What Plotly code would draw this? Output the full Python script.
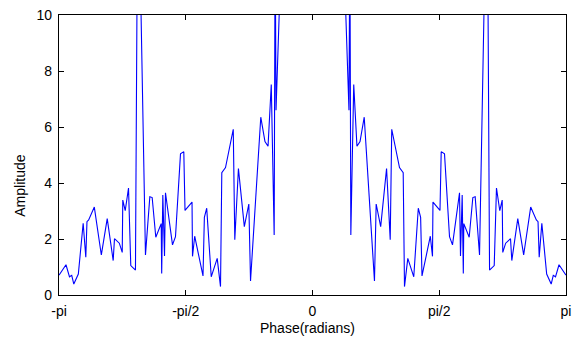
import math
import plotly.graph_objects as go

# Phase (radians) and amplitude
phase = [
    -3.1416, -3.055, -3.0115, -2.984, -2.958, -2.902, -2.842, -2.8095, -2.795, -2.774,
    -2.704, -2.617, -2.544, -2.470, -2.454, -2.394, -2.358, -2.351, -2.321, -2.280,
    -2.252, -2.194, -2.169, -2.134, -2.070, -2.016, -1.987, -1.942, -1.875, -1.869,
    -1.855, -1.834, -1.822, -1.735, -1.698, -1.636, -1.595, -1.580, -1.493, -1.487,
    -1.460, -1.357, -1.340, -1.311, -1.255, -1.181, -1.140, -1.124, -1.078, -0.982,
    -0.963, -0.918, -0.845, -0.789, -0.768, -0.641, -0.589, -0.551, -0.511, -0.475,
    -0.463, -0.452, -0.390, -0.273, -0.149,
    0.0,
    0.149, 0.273, 0.390, 0.452, 0.463, 0.475, 0.511, 0.551, 0.589, 0.641,
    0.768, 0.789, 0.845, 0.918, 0.963, 0.982, 1.078, 1.124, 1.140, 1.181,
    1.255, 1.311, 1.340, 1.357, 1.460, 1.487, 1.493, 1.580, 1.595, 1.636,
    1.698, 1.735, 1.822, 1.834, 1.855, 1.869, 1.875, 1.942, 1.987, 2.016,
    2.070, 2.134, 2.169, 2.194, 2.252, 2.280, 2.321, 2.351, 2.358, 2.394,
    2.454, 2.470, 2.544, 2.617, 2.704, 2.774, 2.795, 2.8095, 2.842, 2.902,
    2.958, 2.984, 3.0115, 3.055, 3.1416,
]

amplitude = [
    0.71, 1.08, 0.65, 0.70, 0.39, 0.75, 2.56, 1.35, 2.62, 2.68,
    3.14, 1.43, 2.73, 1.23, 2.01, 1.85, 1.52, 3.39, 3.01, 3.82,
    1.05, 0.89, 13.5, 11.5, 1.43, 3.51, 3.48, 2.06, 2.55, 0.77,
    3.57, 1.39, 3.65, 1.79, 2.08, 5.04, 5.12, 3.02, 3.32, 1.38,
    2.10, 0.68, 2.77, 3.10, 0.65, 1.31, 0.30, 4.37, 4.55, 5.92,
    1.97, 4.52, 2.44, 3.25, 0.50, 6.35, 5.48, 5.31, 7.52, 2.14,
    13.0, 6.60, 12.0, 20.0, 28.0,
    35.0,
    28.0, 20.0, 12.0, 6.60, 13.0, 2.14, 7.52, 5.31, 5.48, 6.35,
    0.50, 3.25, 2.44, 4.52, 1.97, 5.92, 4.55, 4.37, 0.30, 1.31,
    0.65, 3.10, 2.77, 0.68, 2.10, 1.38, 3.32, 3.02, 5.12, 5.04,
    2.08, 1.79, 3.65, 1.39, 3.57, 0.77, 2.55, 2.06, 3.48, 3.51,
    1.43, 11.5, 13.5, 0.89, 1.05, 3.82, 3.01, 3.39, 1.52, 1.85,
    2.01, 1.23, 2.73, 1.43, 3.14, 2.68, 2.62, 1.35, 2.56, 0.75,
    0.39, 0.70, 0.65, 1.08, 0.71,
]

x_tick_vals = [-math.pi, -math.pi / 2, 0, math.pi / 2, math.pi]
x_tick_text = ["-pi", "-pi/2", "0", "pi/2", "pi"]
y_tick_vals = [0, 2, 4, 6, 8, 10]
x_title = "Phase(radians)"
y_title = "Amplitude"

FONT = "Liberation Sans, Arial, sans-serif"
FS = 14

fig = go.Figure()
fig.add_trace(go.Scatter(
    x=phase, y=amplitude, mode="lines",
    line=dict(color="#0000FF", width=1.1),
    showlegend=False, hoverinfo="skip",
))

axis_common = dict(
    showline=True, linecolor="black", linewidth=1.2, mirror="ticks",
    ticks="inside", ticklen=5, tickcolor="black", tickwidth=1,
    showgrid=False, zeroline=False, automargin=False,
    tickfont=dict(family=FONT, size=FS, color="black"),
    ticklabelstandoff=3,
)

fig.update_layout(
    width=577, height=338,
    margin=dict(l=59, r=11, t=15, b=43),
    paper_bgcolor="white", plot_bgcolor="white",
    font=dict(family=FONT, size=FS, color="black"),
    xaxis=dict(range=[-math.pi, math.pi], tickvals=x_tick_vals,
               ticktext=x_tick_text, **axis_common),
    yaxis=dict(range=[0, 10], tickvals=y_tick_vals, **axis_common),
)

# axis titles placed as in the reference
fig.add_annotation(text=x_title, xref="paper", yref="paper",
                   x=0.49, y=-0.118, yanchor="middle", xanchor="center",
                   showarrow=False, font=dict(family=FONT, size=FS, color="black"))
fig.add_annotation(text=y_title, xref="paper", yref="paper",
                   x=-0.077, y=0.39, yanchor="middle", xanchor="center",
                   textangle=-90, showarrow=False,
                   font=dict(family=FONT, size=FS, color="black"))

fig.write_html("out.html")
